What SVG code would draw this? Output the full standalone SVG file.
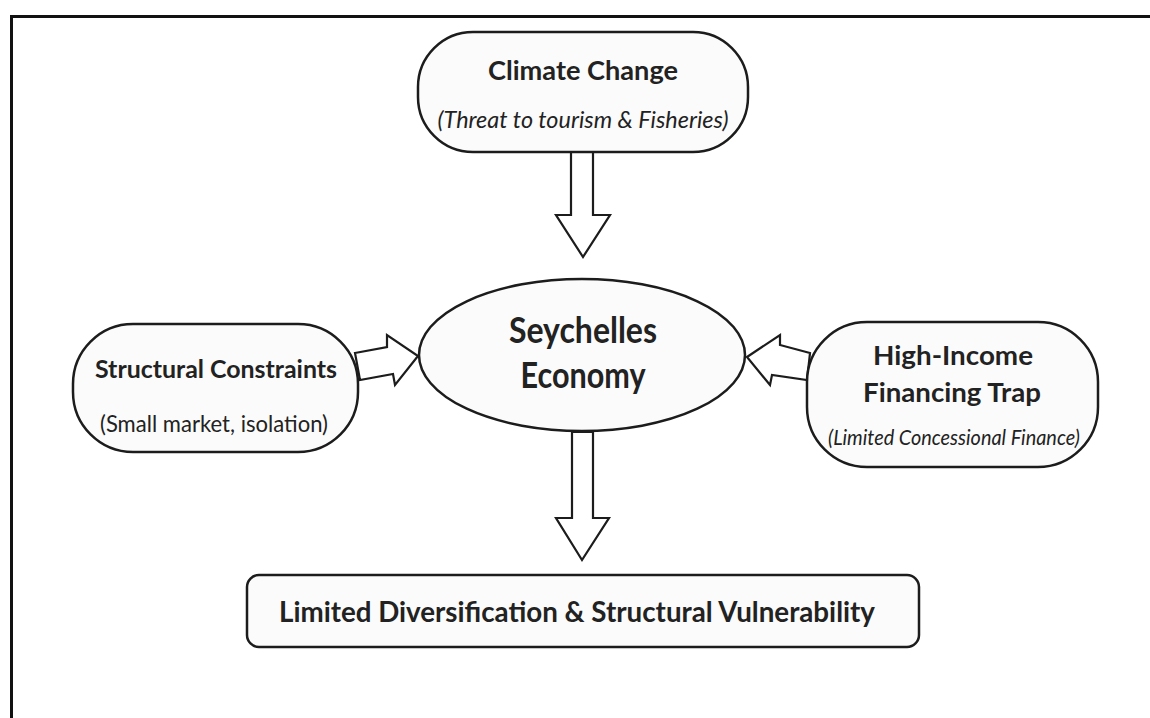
<svg xmlns="http://www.w3.org/2000/svg" width="1150" height="718" viewBox="0 0 1150 718">
  <style>
    .box { fill: #fbfbfb; stroke: #1c1c1c; stroke-width: 2.5; }
    .arrow { fill: #ffffff; stroke: #1c1c1c; stroke-width: 2.2; stroke-linejoin: miter; }
    .t { font-family: Lato, "Noto Sans", "Liberation Sans", sans-serif; fill: #222222; text-anchor: middle; }
    .b { font-weight: bold; }
    .i { font-style: italic; }
  </style>
  <rect x="0" y="0" width="1150" height="718" fill="#ffffff"/>
  <!-- outer frame: only the top and left edges are visible -->
  <path d="M11.5,718 V16.5 H1150" fill="none" stroke="#111111" stroke-width="3"/>

  <g id="connectors">
    <!-- Climate Change -> Economy -->
    <polygon class="arrow" points="571,152 593,152 593,215 610,215 583,257 556,215 571,215"/>
    <!-- Structural Constraints -> Economy -->
    <polygon class="arrow" points="355,353 387,347 387,335 418,356 395,385 393,374 360,380"/>
    <!-- Financing Trap -> Economy -->
    <polygon class="arrow" points="747,357 780,335 780,345 810,353 807,380 772,375 770,385"/>
    <!-- Economy -> Outcome -->
    <polygon class="arrow" points="572,432 593,432 593,518 609,518 582,560 556,518 572,518"/>
  </g>

  <g id="climate">
    <rect class="box" x="418" y="32" width="330" height="120" rx="55" ry="55"/>
    <text class="t b" x="583" y="80" font-size="26" textLength="190" lengthAdjust="spacingAndGlyphs">Climate Change</text>
    <text class="t i" x="583" y="128" font-size="23" textLength="291" lengthAdjust="spacingAndGlyphs">(Threat to tourism &amp; Fisheries)</text>
  </g>

  <g id="economy">
    <ellipse class="box" cx="582" cy="355" rx="163" ry="76"/>
    <text class="t b" x="583" y="343" font-size="36" textLength="148" lengthAdjust="spacingAndGlyphs">Seychelles</text>
    <text class="t b" x="583" y="388" font-size="36" textLength="125" lengthAdjust="spacingAndGlyphs">Economy</text>
  </g>

  <g id="structural">
    <rect class="box" x="73" y="324" width="285" height="128" rx="60" ry="60"/>
    <text class="t b" x="216" y="378" font-size="24" textLength="242" lengthAdjust="spacingAndGlyphs">Structural Constraints</text>
    <text class="t" x="214" y="432" font-size="23" textLength="228" lengthAdjust="spacingAndGlyphs">(Small market, isolation)</text>
  </g>

  <g id="financing">
    <rect class="box" x="807" y="322" width="291" height="145" rx="60" ry="60"/>
    <text class="t b" x="953" y="365" font-size="26" textLength="160" lengthAdjust="spacingAndGlyphs">High-Income</text>
    <text class="t b" x="952" y="402" font-size="26" textLength="178" lengthAdjust="spacingAndGlyphs">Financing Trap</text>
    <text class="t i" x="954" y="445" font-size="21" textLength="252" lengthAdjust="spacingAndGlyphs">(Limited Concessional Finance)</text>
  </g>

  <g id="outcome">
    <rect class="box" x="247" y="575" width="672" height="72" rx="12" ry="12"/>
    <text class="t b" x="577" y="622" font-size="29" textLength="596" lengthAdjust="spacingAndGlyphs">Limited Diversification &amp; Structural Vulnerability</text>
  </g>
</svg>
